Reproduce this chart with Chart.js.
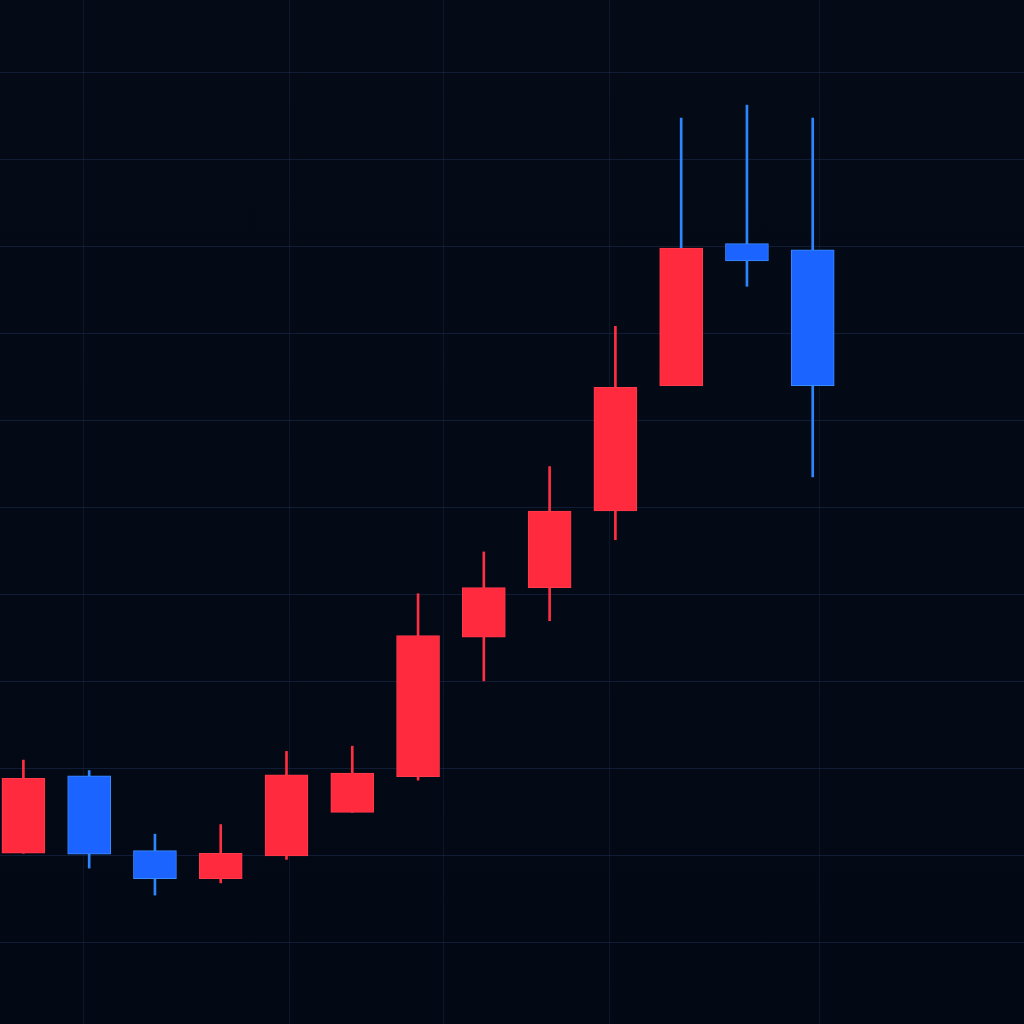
<!DOCTYPE html>
<html>
<head>
<meta charset="utf-8">
<script src="https://cdn.jsdelivr.net/npm/chart.js@4.4.0/dist/chart.umd.min.js"></script>
<style>
  html, body { margin: 0; padding: 0; background: #040915; }
  #wrap { width: 1024px; height: 1024px; background: linear-gradient(#050a17, #020814); }
</style>
</head>
<body>
<div id="wrap"><canvas id="c" width="1024" height="1024"></canvas></div>
<script>
// Candle index (session number)
const sessions = [0, 1, 2, 3, 4, 5, 6, 7, 8, 9, 10, 11, 12];
const opens  = [20.3, 29.2, 20.6, 17.4, 20.0, 25.0, 29.1, 45.1, 50.8, 59.6, 74.0, 90.3, 89.6];
const closes = [28.9, 20.2, 17.4, 20.3, 29.3, 29.5, 45.3, 50.8, 59.6, 73.8, 89.8, 88.3, 74.0];
const highs  = [31.0, 29.8, 22.5, 23.6, 32.0, 32.6, 50.1, 54.9, 64.7, 80.8, 104.7, 106.2, 104.7];
const lows   = [20.3, 18.6, 15.5, 16.9, 19.6, 25.0, 28.7, 40.1, 47.0, 56.3, 74.0, 85.4, 63.5];
// wick colour flags as seen in the picture (1 = blue wick, 0 = red wick)
const blueWick = [0, 1, 1, 0, 0, 0, 0, 0, 0, 0, 1, 1, 1];
// grid positions
const xGrid = [0.921, 4.038, 6.394, 8.903, 12.096];
const yGrid = [10, 20, 30, 40, 50, 60, 70, 80, 90, 100, 110];

const RED = '#ff2a3e', RED_B = '#ff3b4d';
const BLUE = '#1c64ff', BLUE_B = '#3a8cff';
const WICK_RED = '#ff2f42', WICK_BLUE = '#2e86ff';

const up = sessions.map(i => closes[i] >= opens[i]);

const bodies = sessions.map(i => ({ x: i, y: [opens[i], closes[i]] }));
const wicks = sessions.map(i => ({ x: i, y: [lows[i], highs[i]] }));

new Chart(document.getElementById('c'), {
  type: 'bar',
  data: {
    datasets: [
      {
        label: 'body',
        data: bodies,
        order: 0,
        grouped: false,
        barThickness: 43,
        backgroundColor: up.map(u => u ? RED : BLUE),
        borderColor: up.map(u => u ? RED_B : BLUE_B),
        borderWidth: 1,
        borderSkipped: false
      },
      {
        label: 'wick',
        data: wicks,
        order: 1,
        grouped: false,
        barThickness: 2,
        backgroundColor: blueWick.map(b => b ? WICK_BLUE : WICK_RED),
        borderWidth: 0
      }
    ]
  },
  options: {
    responsive: false,
    animation: false,
    layout: { padding: 0 },
    plugins: { legend: { display: false }, tooltip: { enabled: false } },
    scales: {
      x: {
        type: 'linear',
        offset: false,
        min: -0.3556,
        max: 15.212,
        afterBuildTicks: s => { s.ticks = xGrid.map(v => ({ value: v })); },
        ticks: { display: false },
        grid: { offset: false, color: 'rgba(30,42,72,0.4)', lineWidth: 1, drawTicks: false },
        border: { display: false }
      },
      y: {
        type: 'linear',
        min: 0.70,
        max: 118.27,
        afterBuildTicks: s => { s.ticks = yGrid.map(v => ({ value: v })); },
        ticks: { display: false },
        grid: { color: 'rgba(30,44,80,0.55)', lineWidth: 1, drawTicks: false },
        border: { display: false }
      }
    }
  }
});
</script>
</body>
</html>
